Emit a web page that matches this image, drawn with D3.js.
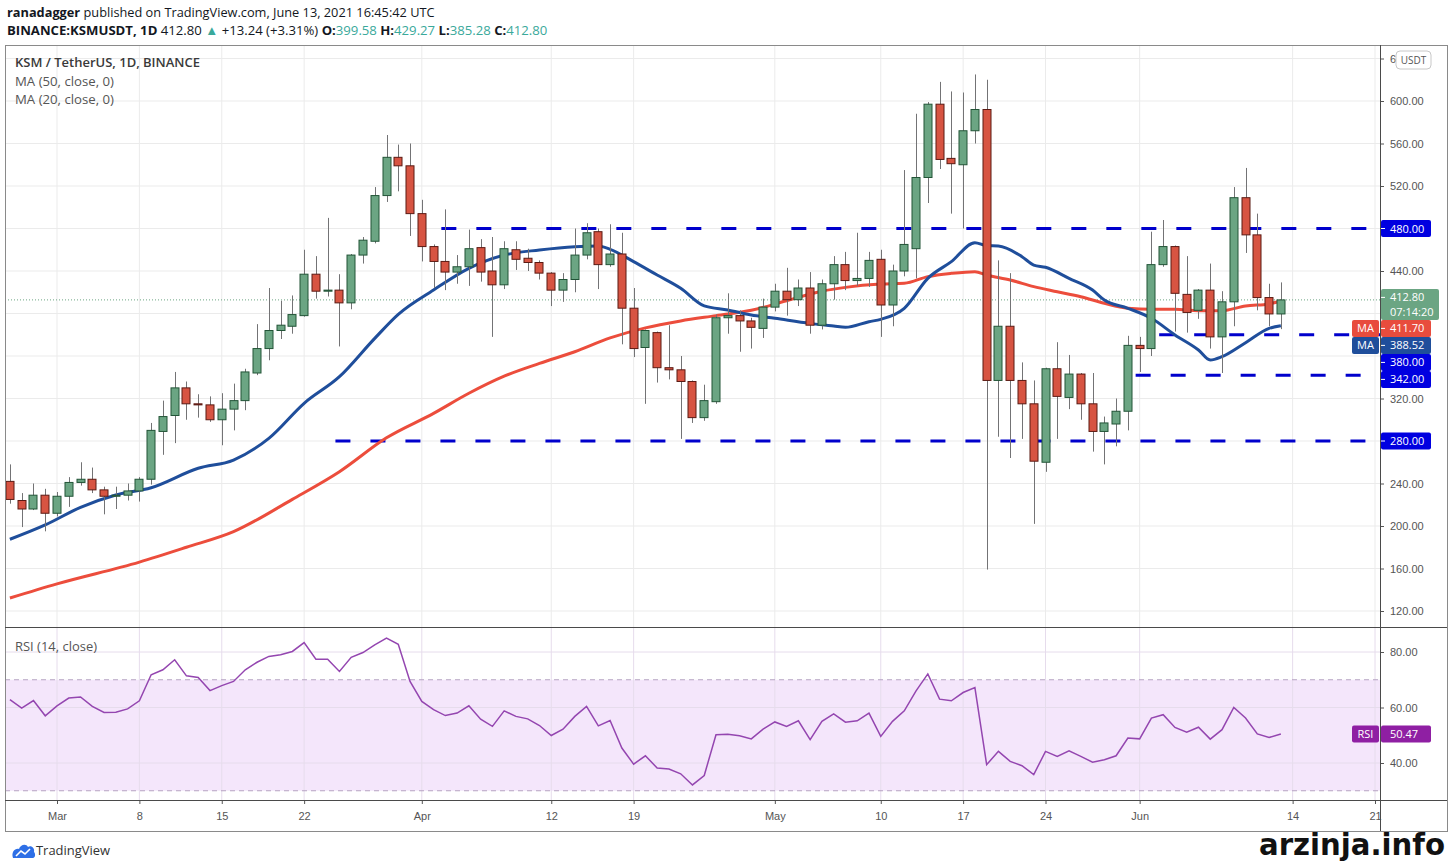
<!DOCTYPE html>
<html lang="en">
<head>
<meta charset="UTF-8">
<title>KSM / TetherUS, 1D, BINANCE</title>
<script src="https://d3js.org/d3.v7.min.js"></script>
<style>
  body { margin: 0; background: #fff; }
  svg { display: block; font-family: "Open Sans", "Noto Sans", sans-serif; }
  .grid line { stroke: #ebebeb; stroke-width: 1px; }
  .axis text { fill: #555; font-size: 11px; }
  .axis line { stroke: #555; }
  .axis path { display: none; }
  .wick { stroke: #737375; stroke-width: 1px; }
  .tag text { fill: #fff; font-size: 11px; }
</style>
</head>
<body>
<svg width="1450" height="863"></svg>
<script>
// ---- data ----
const firstDay = "2021-02-25", lastDay = "2021-06-13";

const open = [242, 224, 216, 229, 212, 228, 241, 244, 234, 228, 229, 233, 244, 289, 304, 330, 315, 314, 300, 310,
  318, 344, 367, 384, 388, 398, 437, 421, 422, 410, 455, 468, 511, 547, 539, 494, 463, 449, 439, 444,
  462, 440, 427, 460, 452, 448, 438, 422, 432, 455, 477, 446, 456, 405, 368, 382, 349, 347, 336, 302,
  317, 396, 398, 393, 386, 406, 421, 413, 424, 389, 428, 446, 431, 433,
  451, 408, 440, 461, 528, 597, 546, 540, 572, 592, 337, 388, 337, 315, 260, 348, 321, 343, 315, 289,
  296, 308, 370, 367, 446, 463, 418, 403, 422, 378, 411, 509, 474, 415, 399.58];
const high = [258, 231, 240, 235, 232, 246, 260, 255, 237, 237, 240, 246, 297, 318, 345, 336, 324, 322, 325, 334,
  348, 390, 424, 412, 417, 460, 454, 490, 437, 456, 472, 519, 568, 559, 560, 507, 465, 498, 455, 479,
  470, 472, 468, 468, 461, 450, 439, 438, 480, 485, 480, 484, 476, 424, 385, 383, 389, 360, 337, 333,
  399, 419, 403, 396, 414, 428, 443, 432, 439, 432, 454, 458, 476, 458,
  460, 446, 535, 588, 599, 618, 609, 608, 625, 620, 450, 438, 354, 337, 349, 373, 361, 344, 344, 303,
  320, 379, 378, 477, 488, 464, 454, 423, 447, 421, 519, 537, 494, 428, 429.27];
const low = [221, 199, 215, 195, 209, 218, 238, 231, 211, 216, 224, 223, 239, 267, 278, 300, 302, 298, 276, 290,
  309, 342, 356, 376, 381, 397, 414, 416, 369, 404, 447, 466, 505, 515, 473, 449, 424, 422, 428, 426,
  430, 378, 423, 441, 440, 432, 407, 411, 420, 451, 423, 444, 371, 359, 315, 335, 338, 282, 297, 299,
  315, 381, 364, 367, 377, 402, 398, 407, 381, 385, 413, 422, 426, 425,
  378, 388, 435, 433, 504, 536, 494, 480, 560, 159, 284, 264, 282, 202, 251, 282, 310, 300, 270, 258,
  275, 290, 345, 360, 444, 383, 382, 395, 367, 344, 388, 457, 403, 388, 385.28];
const close = [225, 216, 229, 212, 228, 241, 244, 234, 228, 229, 233, 244, 290, 303, 330, 315, 314, 300, 310, 318,
  345, 367, 384, 389, 399, 437, 421, 422, 410, 455, 469, 511, 547, 539, 494, 463, 449, 439, 444, 461,
  439, 427, 461, 451, 448, 438, 422, 432, 455, 476, 446, 456, 405, 367, 384, 349, 347, 336, 302, 318,
  396, 398, 393, 387, 406, 421, 413, 424, 389, 428, 446, 431, 433, 450,
  408, 440, 465, 528, 597, 545, 541, 572, 592, 337, 388, 337, 315, 261, 348, 322, 343, 315, 289, 297,
  308, 370, 367, 446, 463, 419, 401, 422, 378, 411, 509, 474, 415, 399.6, 412.80];

const rsi = [62.8, 59.8, 62.5, 57.0, 60.6, 63.4, 63.8, 60.4, 58.2, 58.3, 59.5, 62.4, 71.8, 73.6, 77.2, 71.4, 70.8, 66.1,
  67.9, 69.4, 73.6, 76.3, 78.4, 79.0, 80.2, 83.4, 77.4, 77.4, 73.0, 78.1, 79.8, 82.6, 85.0, 82.8, 69.4, 62.2, 59.2,
  57.1, 58.0, 60.6, 55.8, 53.2, 58.8, 56.8, 55.9, 53.5, 49.9, 52.2, 56.8, 60.4, 53.4, 55.3, 45.4, 39.6, 42.6, 38.2,
  37.8, 36.1, 32.1, 35.5, 50.2, 50.4, 49.8, 48.7, 52.2, 54.8, 53.2, 55.2, 48.4, 55.0, 57.7, 54.7, 55.2, 58.0,
  49.6, 55.0, 58.8, 66.0, 72.1, 63.0, 62.4, 65.4, 67.2, 39.4, 44.2, 40.6, 39.0, 35.8, 44.2, 42.4, 44.4, 42.4,
  40.3, 41.2, 42.6, 49.0, 48.7, 56.2, 57.4, 52.8, 51.1, 52.9, 48.6, 52.0, 60.0, 56.2, 50.5, 49.2, 50.47];

// moving averages, read at the days listed
const ma20Days = ["02-25", "02-28", "03-03", "03-06", "03-09", "03-13", "03-16", "03-19", "03-22", "03-25", "03-28",
  "03-30", "04-02", "04-05", "04-08", "04-11", "04-14", "04-16", "04-17", "04-19", "04-21", "04-23", "04-25", "04-27",
  "04-29", "05-01", "05-04", "05-06", "05-07", "05-09", "05-10", "05-12", "05-14", "05-16", "05-18", "05-19", "05-20",
  "05-22", "05-23", "05-24", "05-26", "05-28", "05-29", "05-31", "06-02", "06-04", "06-06", "06-07", "06-08", "06-10",
  "06-12", "06-13"];
const ma20Vals = [187.5, 201, 217.6, 229.2, 236, 254.3, 262.1, 282.5, 315.5, 340.5, 376.6,
  399.2, 422.1, 442.5, 455, 459.8, 462.9, 463.5, 460.4, 448.8, 436.2, 423.7, 407.1, 403.3,
  398.6, 395.5, 390.7, 388.2, 387, 392.3, 394.5, 404.9, 433.1, 448.8, 466.7, 463.8, 463.5,
  453.5, 445.6, 443.5, 433.1, 422.1, 412.7, 404.9, 395.5, 379.8, 365.6, 356.2, 359.4, 372.5,
  386, 388.52];
const ma50Days = ["02-25", "03-01", "03-08", "03-12", "03-16", "03-21", "03-25", "03-29", "04-02", "04-05", "04-08",
  "04-11", "04-14", "04-17", "04-20", "04-23", "04-26", "04-29", "05-02", "05-05", "05-07", "05-10", "05-12", "05-14",
  "05-16", "05-18", "05-19", "05-21", "05-23", "05-25", "05-27", "05-29", "05-31", "06-02", "06-04", "06-06", "06-08",
  "06-10", "06-12", "06-13"];
const ma50Vals = [132.2, 145.5, 166, 180, 194.7, 225.1, 251.1, 283, 306, 324.9, 341,
  353, 364, 377, 386.5, 393, 398, 403, 412, 421, 424.6, 427.7, 428.4, 434.7,
  437.8, 439.4, 436.2, 431.5, 425.3, 420.5, 415.8, 409.6, 404.9, 403.9, 403.9, 402.7, 402.7,
  407.1, 409, 411.70];

const levelVals = [480, 380, 342, 280];
const levelFrom = ["2021-04-03", "2021-06-03", "2021-06-01", "2021-03-25"];

const priceTicks = [120, 160, 200, 240, 280, 320, 360, 400, 440, 480, 520, 560, 600, 640];
const rsiTicks = [40, 60, 80];
const timeTicks = ["2021-03-01", "2021-03-08", "2021-03-15", "2021-03-22", "2021-04-01", "2021-04-12", "2021-04-19",
  "2021-05-01", "2021-05-10", "2021-05-17", "2021-05-24", "2021-06-01", "2021-06-14", "2021-06-21"];

// ---- layout ----
const svg = d3.select("svg");
const frameL = 5, frameR = 1447, frameT = 45, frameB = 831;
const plotR = 1380;
const paneSplit = 627, rsiBottom = 800;

const parse = d3.utcParse("%Y-%m-%d");
const md = s => parse("2021-" + s);
const dates = d3.utcDay.range(parse(firstDay), d3.utcDay.offset(parse(lastDay), 1));

const x = d3.scaleUtc().domain([parse("2021-03-01"), parse("2021-06-21")]).range([57, 1375]);
const y = d3.scaleLinear().domain([120, 600]).range([611, 101]);
const yR = d3.scaleLinear().domain([40, 80]).range([763, 652]);

const defs = svg.append("defs");
defs.append("clipPath").attr("id", "pclip").append("rect")
  .attr("x", frameL + 1).attr("y", frameT + 1).attr("width", plotR - frameL - 1).attr("height", paneSplit - frameT - 1);
defs.append("clipPath").attr("id", "rclip").append("rect")
  .attr("x", frameL + 1).attr("y", paneSplit + 1).attr("width", plotR - frameL - 1).attr("height", rsiBottom - paneSplit - 1);
// the top axis label runs under the currency box
defs.append("clipPath").attr("id", "topclip").append("rect")
  .attr("x", plotR).attr("y", frameT).attr("width", 16).attr("height", 30);

// shrink a text's font until it fits the width it has in the reference
function fitWidth(sel, target, size) {
  const w = sel.node().getComputedTextLength();
  if (w > target) sel.attr("font-size", size * target / w);
}

// ---- header ----
const teal = "#3aa99b";
const h1 = svg.append("text").attr("x", 7).attr("y", 17).attr("font-size", 14).attr("fill", "#131722");
h1.append("tspan").attr("font-weight", "bold").text("ranadagger");
h1.append("tspan").text(" published on TradingView.com, June 13, 2021 16:45:42 UTC");
fitWidth(h1, 428, 14);

const h2 = svg.append("text").attr("x", 7).attr("y", 35).attr("font-size", 14).attr("fill", "#131722");
const hdr = [
  ["BINANCE:KSMUSDT, 1D", "bold", "#131722"], [" 412.80 ", "normal", "#131722"], ["▲", "normal", teal],
  [" +13.24 (+3.31%) ", "normal", "#131722"], ["O:", "bold", "#131722"], ["399.58", "normal", teal],
  [" H:", "bold", "#131722"], ["429.27", "normal", teal], [" L:", "bold", "#131722"], ["385.28", "normal", teal],
  [" C:", "bold", "#131722"], ["412.80", "normal", teal]];
hdr.forEach(d => h2.append("tspan").attr("font-weight", d[1]).attr("fill", d[2]).text(d[0]));
fitWidth(h2, 541, 14);

// ---- grid ----
const grid = svg.append("g").attr("class", "grid");
grid.selectAll(".vp").data(timeTicks).enter().append("line")
  .attr("x1", d => x(parse(d))).attr("x2", d => x(parse(d)))
  .attr("y1", frameT).attr("y2", paneSplit);
grid.selectAll(".hp").data(priceTicks).enter().append("line")
  .attr("x1", frameL).attr("x2", plotR).attr("y1", d => y(d)).attr("y2", d => y(d));

// RSI band
svg.append("rect").attr("x", frameL).attr("width", plotR - frameL)
  .attr("y", yR(70)).attr("height", yR(30) - yR(70)).attr("fill", "#f4e6fb");
const rgrid = svg.append("g").attr("class", "grid");
rgrid.selectAll(".vr").data(timeTicks).enter().append("line")
  .attr("x1", d => x(parse(d))).attr("x2", d => x(parse(d)))
  .attr("y1", paneSplit).attr("y2", rsiBottom).style("stroke", "#e6dcec");
rgrid.selectAll(".hr").data(rsiTicks).enter().append("line")
  .attr("x1", frameL).attr("x2", plotR).attr("y1", d => yR(d)).attr("y2", d => yR(d)).style("stroke", "#e6dcec");
[70, 30].forEach(v => svg.append("line").attr("x1", frameL).attr("x2", plotR).attr("y1", yR(v)).attr("y2", yR(v))
  .attr("stroke", "#b6a3c2").attr("stroke-dasharray", "5,4"));

// ---- price pane ----
const pane = svg.append("g").attr("clip-path", "url(#pclip)");

// last price dotted line
pane.append("line").attr("x1", frameL).attr("x2", plotR)
  .attr("y1", y(close[close.length - 1])).attr("y2", y(close[close.length - 1]))
  .attr("stroke", "#6ba583").attr("stroke-dasharray", "1,2");

// support / resistance levels
pane.selectAll(".lvl").data(levelVals).enter().append("line")
  .attr("x1", (d, i) => x(parse(levelFrom[i])) - 4).attr("x2", plotR)
  .attr("y1", d => y(d)).attr("y2", d => y(d))
  .attr("stroke", "#0000cc").attr("stroke-width", 3).attr("stroke-dasharray", "15,20");

// moving averages
const maLine = d3.line().curve(d3.curveMonotoneX).x(d => x(md(d[0]))).y(d => y(d[1]));
pane.append("path").datum(ma50Days.map((d, i) => [d, ma50Vals[i]]))
  .attr("d", maLine).attr("fill", "none").attr("stroke", "#ec4d3c").attr("stroke-width", 3);
pane.append("path").datum(ma20Days.map((d, i) => [d, ma20Vals[i]]))
  .attr("d", maLine).attr("fill", "none").attr("stroke", "#1f4e9b").attr("stroke-width", 3);

// candles
const bw = 9;
const candles = pane.append("g").selectAll("g").data(dates).enter().append("g");
candles.append("line").attr("class", "wick")
  .attr("x1", d => Math.round(x(d)) + 0.5).attr("x2", d => Math.round(x(d)) + 0.5)
  .attr("y1", (d, i) => y(high[i])).attr("y2", (d, i) => y(low[i]));
candles.append("rect")
  .attr("x", d => Math.round(x(d)) - (bw - 1) / 2)
  .attr("y", (d, i) => y(Math.max(open[i], close[i])))
  .attr("width", bw - 1)
  .attr("height", (d, i) => Math.max(1, Math.abs(y(open[i]) - y(close[i]))))
  .attr("fill", (d, i) => close[i] >= open[i] ? "#6ba583" : "#d75442")
  .attr("stroke", (d, i) => close[i] >= open[i] ? "#225437" : "#5b1a13")
  .attr("stroke-width", 1);

// legend
const lg = svg.append("g").attr("font-size", 12.5);
lg.append("text").attr("x", 15).attr("y", 67).attr("fill", "#3a3a3a").attr("font-weight", 600)
  .attr("textLength", 185).attr("lengthAdjust", "spacingAndGlyphs").text("KSM / TetherUS, 1D, BINANCE");
lg.append("text").attr("x", 15).attr("y", 86).attr("fill", "#555")
  .attr("textLength", 99).attr("lengthAdjust", "spacingAndGlyphs").text("MA (50, close, 0)");
lg.append("text").attr("x", 15).attr("y", 104).attr("fill", "#555")
  .attr("textLength", 99).attr("lengthAdjust", "spacingAndGlyphs").text("MA (20, close, 0)");

// ---- RSI pane ----
const rp = svg.append("g").attr("clip-path", "url(#rclip)");
rp.append("path").datum(rsi)
  .attr("d", d3.line().x((d, i) => x(dates[i])).y(d => yR(d)))
  .attr("fill", "none").attr("stroke", "#9446b0").attr("stroke-width", 1.5);
svg.append("text").attr("x", 15).attr("y", 651).attr("font-size", 12.5).attr("fill", "#555")
  .attr("textLength", 82).attr("lengthAdjust", "spacingAndGlyphs").text("RSI (14, close)");

// ---- price tags on the axis (positions stacked so they do not collide) ----
const ma50Last = ma50Vals[ma50Vals.length - 1], ma20Last = ma20Vals[ma20Vals.length - 1];
const lastPrice = close[close.length - 1];
const tags = [
  { v: lastPrice, color: "#6ba583", sub: "07:14:20" },
  { v: ma50Last, color: "#e84c3d", ma: true },
  { v: ma20Last, color: "#1f4e9b", ma: true }]
  .concat(levelVals.map(v => ({ v, color: "#0000e0" })))
  .sort((a, b) => b.v - a.v);
let prevBottom = 0;
tags.forEach(t => {
  const h = t.sub ? 31 : 17;
  const top0 = t.sub ? y(t.v) - 11 : y(t.v) - 8.5;
  t.top = Math.max(top0, prevBottom);
  t.h = h;
  prevBottom = t.top + h;
});

// ---- axes ----
const fmt = d3.format(".2f");
const pAxis = svg.append("g").attr("class", "axis").attr("transform", `translate(${plotR},0)`)
  .call(d3.axisRight(y).tickValues(priceTicks).tickSize(4).tickPadding(6).tickFormat(fmt));
// hide the axis labels that sit under a tag, as the platform does
pAxis.selectAll(".tick").filter(d => tags.some(t => y(d) > t.top - 6 && y(d) < t.top + t.h + 6)).remove();
pAxis.selectAll(".tick").filter(d => d === 640).select("text")
  .attr("transform", `translate(${-plotR},${-y(640)})`)
  .attr("x", plotR + 10).attr("y", y(640))
  .attr("clip-path", "url(#topclip)");
svg.append("g").attr("class", "axis").attr("transform", `translate(${plotR},0)`)
  .call(d3.axisRight(yR).tickValues(rsiTicks).tickSize(4).tickPadding(6).tickFormat(fmt));
const monthFmt = d3.utcFormat("%b"), dayFmt = d3.utcFormat("%-d");
svg.append("g").attr("class", "axis").attr("transform", `translate(0,${rsiBottom})`)
  .call(d3.axisBottom(x).tickValues(timeTicks.map(parse)).tickSize(4).tickPadding(8)
    .tickFormat(d => d.getUTCDate() === 1 ? monthFmt(d) : dayFmt(d)));

// currency box
svg.append("rect").attr("x", 1396).attr("y", 51).attr("width", 35).attr("height", 18).attr("rx", 4)
  .attr("fill", "#fff").attr("stroke", "#c8c8c8");
svg.append("text").attr("x", 1413.5).attr("y", 64).attr("text-anchor", "middle").attr("font-size", 10)
  .attr("fill", "#555").text("USDT");

const tg = svg.append("g").attr("class", "tag");
tags.forEach(t => {
  const w = t.sub ? 58 : 50;
  tg.append("rect").attr("x", plotR + 1).attr("y", t.top).attr("width", w).attr("height", t.h)
    .attr("rx", 2).attr("fill", t.color);
  tg.append("line").attr("x1", plotR).attr("x2", plotR + 5).attr("y1", t.top + 8.5).attr("y2", t.top + 8.5)
    .attr("stroke", "#fff");
  tg.append("text").attr("x", plotR + 10).attr("y", t.top + 12.5).text(fmt(t.v));
  if (t.sub) tg.append("text").attr("x", plotR + 10).attr("y", t.top + 27).text(t.sub);
  if (t.ma) {
    tg.append("rect").attr("x", plotR - 28).attr("y", t.top).attr("width", 27).attr("height", t.h)
      .attr("rx", 2).attr("fill", t.color);
    tg.append("text").attr("x", plotR - 14.5).attr("y", t.top + 12.5).attr("text-anchor", "middle").text("MA");
  }
});
const rsiLast = rsi[rsi.length - 1];
const ry = yR(rsiLast);
tg.append("rect").attr("x", plotR - 28).attr("y", ry - 8.5).attr("width", 27).attr("height", 17).attr("rx", 2).attr("fill", "#8f1fa3");
tg.append("text").attr("x", plotR - 14.5).attr("y", ry + 4).attr("text-anchor", "middle").text("RSI");
tg.append("rect").attr("x", plotR + 1).attr("y", ry - 8.5).attr("width", 50).attr("height", 17).attr("rx", 2).attr("fill", "#8f1fa3");
tg.append("text").attr("x", plotR + 10).attr("y", ry + 4).text(fmt(rsiLast));

// ---- frame and separators ----
svg.append("rect").attr("x", frameL + 0.5).attr("y", frameT + 0.5)
  .attr("width", frameR - frameL).attr("height", frameB - frameT)
  .attr("fill", "none").attr("stroke", "#8a8a8a");
svg.append("line").attr("x1", frameL).attr("x2", frameR).attr("y1", paneSplit + 0.5).attr("y2", paneSplit + 0.5).attr("stroke", "#4a4a4a");
svg.append("line").attr("x1", frameL).attr("x2", frameR).attr("y1", rsiBottom + 0.5).attr("y2", rsiBottom + 0.5).attr("stroke", "#4a4a4a");
svg.append("line").attr("x1", plotR + 0.5).attr("x2", plotR + 0.5).attr("y1", frameT).attr("y2", frameB).attr("stroke", "#4a4a4a");

// ---- footer ----
svg.append("path").attr("d", "M13,858 C11,852 15,848 19,849 C20,845 26,843 28,847 C31,845 35,848 34,852 C36,854 35,858 33,858 Z")
  .attr("fill", "#2e6fe6");
svg.append("path").attr("d", "M16,856 L21,851 L25,854 L30,849").attr("fill", "none").attr("stroke", "#fff").attr("stroke-width", 1.6);
svg.append("text").attr("x", 36).attr("y", 855).attr("font-size", 13).attr("fill", "#333")
  .attr("textLength", 74).attr("lengthAdjust", "spacingAndGlyphs").text("TradingView");
svg.append("text").attr("x", 1259).attr("y", 855).attr("font-family", "'Liberation Sans Narrow', 'DejaVu Sans Condensed', sans-serif")
  .attr("font-weight", "bold").attr("font-size", 30).attr("fill", "#111")
  .attr("textLength", 186).attr("lengthAdjust", "spacingAndGlyphs").text("arzinja.info");
</script>
</body>
</html>
